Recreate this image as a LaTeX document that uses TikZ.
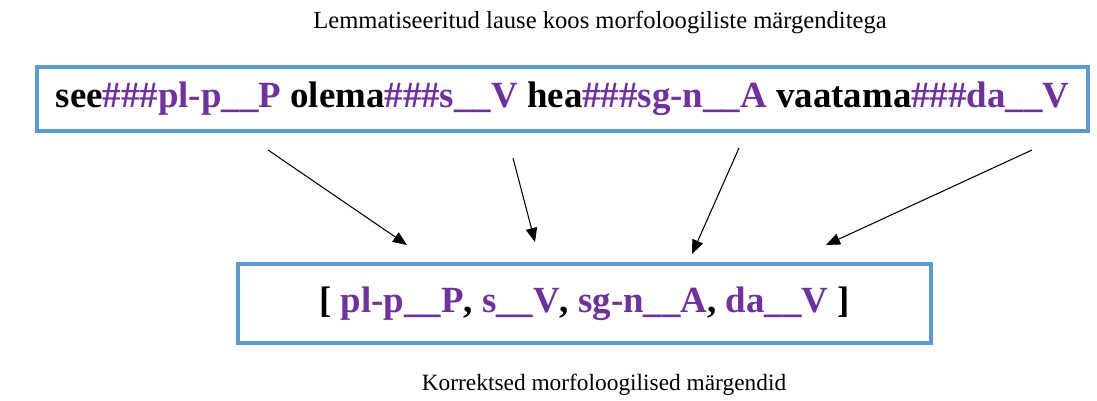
\documentclass[tikz,border=0pt]{standalone}
\usepackage{fontspec}
\setmainfont{Liberation Serif}
\usetikzlibrary{arrows.meta}

\definecolor{morf}{HTML}{7030A0}
\definecolor{marco}{HTML}{5B9BD5}
\newcommand{\mrg}[1]{\textcolor{morf}{#1}}

\begin{document}
\begin{tikzpicture}[x=0.02cm, y=-0.02cm,
    caja/.style={draw=marco, line width=1.9pt, inner sep=0pt,
      font=\fontsize{21}{25}\selectfont\bfseries},
    rotulo/.style={font=\fontsize{14}{16}\selectfont},
    flecha/.style={line width=0.6pt, -{Triangle[length=8pt, width=6.5pt]}}]
    \useasboundingbox (0, 0) rectangle (1097, 400);

    % Titulo superior
    \node[rotulo] (titulo) at (600, 22) {Lemmatiseeritud lause koos morfoloogiliste märgenditega};

    % Caja con la oracion lematizada
    \node[caja, minimum width=21.02cm, minimum height=1.28cm] (lause) at (562.5, 99)
      {see\mrg{\#\#\#pl-p\_\_P} olema\mrg{\#\#\#s\_\_V} hea\mrg{\#\#\#sg-n\_\_A} vaatama\mrg{\#\#\#da\_\_V}};

    % Caja con las etiquetas correctas
    \node[caja, minimum width=13.86cm, minimum height=1.58cm] (margendid) at (584.5, 303.5)
      {[ \mrg{pl-p\_\_P}, \mrg{s\_\_V}, \mrg{sg-n\_\_A}, \mrg{da\_\_V} ]};

    % Titulo inferior
    \node[rotulo, font=\fontsize{13.3}{16}\selectfont] (alltekst) at (604, 385) {Korrektsed morfoloogilised märgendid};

    % Flechas entre las cajas
    \coordinate (a1) at (268, 150);
    \coordinate (b1) at (407, 245);
    \coordinate (a2) at (513, 158);
    \coordinate (b2) at (535, 242);
    \coordinate (a3) at (739, 148);
    \coordinate (b3) at (692, 254);
    \coordinate (a4) at (1032, 150);
    \coordinate (b4) at (826, 245);
    \foreach \i in {1,...,4}
      \draw[flecha] (a\i) -- (b\i);
\end{tikzpicture}
\end{document}
